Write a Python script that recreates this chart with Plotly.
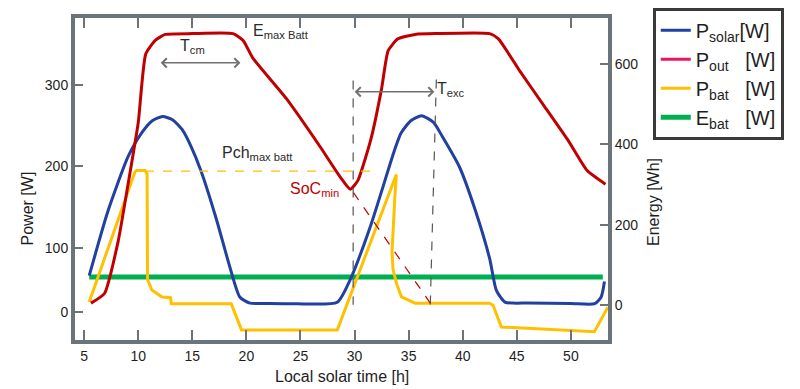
import plotly.graph_objects as go

# ---------------- data ----------------
# Local solar time [h] / Power [W] (left axis) / Energy [Wh] (right axis)
solar_t = [5.47, 7.19, 9.06, 10.32, 11.3, 12.25, 13.2, 14.07, 14.9, 15.79, 17.2, 18.45, 19.39, 20.33,
           22.0, 24.6, 28.4, 29.6, 31.5, 33.7, 34.3, 35.2, 36.2, 37.3, 38.1, 39.7, 41.2,
           42.5, 43.1, 43.9, 46.0, 50.0, 52.2, 52.8, 53.1]
solar_p = [65.6, 144.5, 211.8, 241.1, 256.0, 261.3, 257.0, 245.0, 224.0, 194.9, 136.2, 77.3, 39.5, 31.9,
           31.5, 31.2, 33.0, 60.9, 127.7, 220.1, 241.0, 256.0, 262.2, 254.0, 237.0, 199.2, 144.5,
           86.0, 48.0, 33.2, 32.0, 31.5, 31.2, 39.5, 58.4]

energy_t = [5.63, 6.88, 8.13, 9.06, 10.0, 10.69, 11.57, 12.5, 15.0, 18.77, 19.7, 20.6,
            23.7, 26.8, 28.7, 29.6, 30.3, 31.5, 32.5, 33.1, 34.0, 35.6, 37.5, 42.5,
            43.3, 45.3, 47.5, 49.7, 51.5, 53.2]
energy_wh = [5, 29, 157, 301, 454, 625, 659, 674, 676, 676, 659, 615,
             514, 395, 318, 288.5, 310, 412, 539, 633, 663, 674, 676, 676,
             663, 582, 497, 412, 335, 301]

bat_t = [5.47, 9.69, 9.85, 10.63, 10.82, 10.86, 11.26, 12.2, 12.98, 13.07, 18.6, 19.55,
         28.4, 33.7, 33.86, 33.72, 33.56, 33.46, 33.56, 33.87, 34.34, 35.59,
         42.48, 42.8, 43.57, 52.17, 53.42]
bat_p = [33.2, 192.9, 194.9, 194.9, 190.7, 60.9, 48.0, 39.5, 38.6, 31.0, 31.0, -1.0,
         -1.0, 186.6, 189.9, 161.3, 127.7, 94.1, 73.2, 56.3, 39.5, 31.9,
         31.9, 29.4, 2.6, -3.3, 26.9]

ebat_t = [5.47, 52.95]
ebat_p = [63.9, 63.9]

x_ticks = [5, 10, 15, 20, 25, 30, 35, 40, 45, 50]
y1_tickvals = [20.6, 100, 200, 300]
y1_ticktext = ["0", "100", "200", "300"]
y2_ticks = [0, 200, 400, 600]

# ---------------- styling ----------------
BLUE = "#2140a0"
RED = "#c00000"
PINK = "#e8175d"
YELLOW = "#ffc000"
GREEN = "#00b050"
AXIS = "#6b737b"
FONT = "Liberation Sans, Arial, sans-serif"
TXT = "#1e1e1e"

fig = go.Figure()

fig.add_trace(go.Scatter(x=ebat_t, y=ebat_p, mode="lines", line=dict(color=GREEN, width=5),
                         name="E<sub>bat</sub>\u00a0\u00a0\u00a0[W]", legendrank=4))
fig.add_trace(go.Scatter(x=bat_t, y=bat_p, mode="lines", line=dict(color=YELLOW, width=3),
                         name="P<sub>bat</sub>\u00a0\u00a0\u00a0[W]", legendrank=3))
fig.add_trace(go.Scatter(x=solar_t, y=solar_p, mode="lines",
                         line=dict(color=BLUE, width=3, shape="spline", smoothing=0.6),
                         name="P<sub>solar</sub>[W]", legendrank=1))
fig.add_trace(go.Scatter(x=energy_t, y=energy_wh, mode="lines", yaxis="y2",
                         line=dict(color=RED, width=3, shape="spline", smoothing=0.5),
                         showlegend=False, name="E"))
# legend entry for the red curve (legend uses a pinker red in the reference)
fig.add_trace(go.Scatter(x=[None], y=[None], mode="lines", line=dict(color=PINK, width=3),
                         name="P<sub>out</sub>\u00a0\u00a0\u00a0[W]", legendrank=2))

# dashed guide lines
fig.add_shape(type="line", x0=10.63, x1=31.6, y0=194.1, y1=194.1,
              line=dict(color=YELLOW, width=1.2, dash="dash"))
fig.add_shape(type="line", x0=29.87, x1=29.87, y0=305.4, y1=30,
              line=dict(color="#555555", width=1.2, dash="dash"))
fig.add_shape(type="line", x0=37.56, x1=37.0, y0=306.7, y1=30,
              line=dict(color="#555555", width=1.2, dash="dash"))
fig.add_shape(type="line", x0=29.9, x1=37.0, y0=167.7, y1=32,
              line=dict(color=RED, width=1.2, dash="dash"))

# double arrows
for (xa, xb, yy) in [(11.94, 19.45, 327.2), (29.87, 37.38, 291.6)]:
    fig.add_annotation(x=xb, y=yy, ax=xa, ay=yy, xref="x", yref="y", axref="x", ayref="y",
                       text="", showarrow=True, arrowside="end+start",
                       arrowhead=4, startarrowhead=4, arrowsize=1.2, startarrowsize=1.2,
                       arrowwidth=1.5, arrowcolor="#707070", standoff=0, startstandoff=0)

ann_font = dict(family=FONT, size=16, color="#2a2a2a")
fig.add_annotation(x=20.4, y=365.5, text="E<sub>max Batt</sub>", showarrow=False,
                   xanchor="left", yanchor="middle", font=ann_font)
fig.add_annotation(x=15.0, y=347, text="T<sub>cm</sub>", showarrow=False,
                   xanchor="center", yanchor="middle", font=ann_font)
fig.add_annotation(x=17.55, y=215.5, text="Pch<sub>max batt</sub>", showarrow=False,
                   xanchor="left", yanchor="middle", font=ann_font)
fig.add_annotation(x=23.85, y=171.5, text="SoC<sub>min</sub>", showarrow=False,
                   xanchor="left", yanchor="middle", font=dict(family=FONT, size=16, color=RED))
fig.add_annotation(x=37.4, y=294.5, text="T<sub>exc</sub>", showarrow=False,
                   xanchor="left", yanchor="middle", font=ann_font)

# axis titles
title_font = dict(family=FONT, size=16, color=TXT)
fig.add_annotation(x=-0.107, y=0.41, xref="paper", yref="paper", text="Power [W]",
                   textangle=-90, showarrow=False, font=title_font)
fig.add_annotation(x=1.105, y=0.43, xref="paper", yref="paper", text="Energy [Wh]",
                   textangle=-90, showarrow=False, font=title_font)
fig.add_annotation(x=0.501, y=-0.1465, xref="paper", yref="paper", text="Local solar time [h]",
                   showarrow=False, font=title_font)

tick_font = dict(family=FONT, size=14, color=TXT)
# the page body has an 8px default margin, so the figure is 792x381
fig.update_layout(
    width=792, height=381, autosize=False,
    margin=dict(l=67, r=192, t=10, b=49, autoexpand=False),
    paper_bgcolor="white", plot_bgcolor="white",
    font=dict(family=FONT, color=TXT),
    xaxis=dict(range=[4.155, 53.43], tickvals=x_ticks, ticks="inside", ticklen=10,
               tickwidth=2, tickcolor=AXIS, showline=True, linewidth=4, linecolor=AXIS,
               mirror="ticks", showgrid=False, zeroline=False, tickfont=tick_font),
    yaxis=dict(range=[-13.4, 382.3], tickvals=y1_tickvals, ticktext=y1_ticktext,
               ticks="inside", ticklen=8, tickwidth=2, tickcolor=AXIS, showline=True,
               linewidth=4, linecolor=AXIS, showgrid=False, zeroline=False, tickfont=tick_font),
    yaxis2=dict(range=[-86.8, 714.9], tickvals=y2_ticks, overlaying="y", side="right",
                ticks="inside", ticklen=8, tickwidth=2, tickcolor=AXIS, showline=True,
                linewidth=4, linecolor=AXIS, showgrid=False, zeroline=False, tickfont=tick_font),
    legend=dict(x=1.084, y=1.032, xanchor="left", yanchor="top",
                font=dict(family=FONT, size=20, color=TXT),
                bordercolor="#3a3a3a", borderwidth=3, bgcolor="white",
                tracegroupgap=0),
    showlegend=True,
)

fig.write_html("out.html")
